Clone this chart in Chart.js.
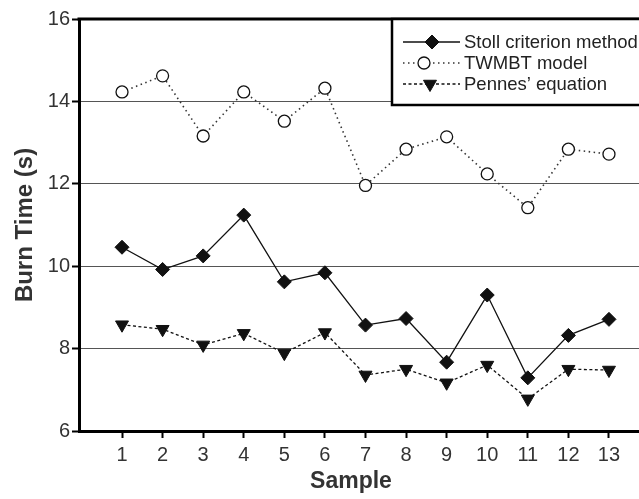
<!DOCTYPE html>
<html>
<head>
<meta charset="utf-8">
<script src="https://cdn.jsdelivr.net/npm/chart.js@4/dist/chart.umd.min.js"></script>
<style>
  html, body { margin: 0; padding: 0; background: #ffffff; }
  canvas { display: block; }
</style>
</head>
<body>
<canvas id="c" width="639" height="499"></canvas>
<script>
// ---- data ----
const samples = [1, 2, 3, 4, 5, 6, 7, 8, 9, 10, 11, 12, 13];
const stollValues  = [10.46, 9.92, 10.25, 11.24, 9.62, 9.84, 8.57, 8.73, 7.67, 9.30, 7.29, 8.32, 8.71];
const twmbtValues  = [14.23, 14.62, 13.16, 14.23, 13.52, 14.32, 11.96, 12.84, 13.14, 12.24, 11.42, 12.84, 12.72];
const pennesValues = [8.58, 8.47, 8.09, 8.37, 7.89, 8.39, 7.36, 7.50, 7.17, 7.60, 6.78, 7.50, 7.48];
const seriesNames = ["Stoll criterion method", "TWMBT model", "Pennes\u2019 equation"];
const yTickValues = [6, 8, 10, 12, 14, 16];
const xTitle = "Sample";
const yTitle = "Burn Time (s)";

const FONT = "'Liberation Sans', Arial, Helvetica, sans-serif";

function pts(vals) { return samples.map((s, i) => ({ x: s, y: vals[i] })); }

const datasets = [
  {
    label: seriesNames[0], data: pts(stollValues),
    borderColor: '#111', borderWidth: 1.3, borderDash: [],
    pointStyle: 'rectRot', pointRadius: 7, pointBackgroundColor: '#111',
    pointBorderColor: '#111', pointBorderWidth: 1, pointRotation: 0
  },
  {
    label: seriesNames[1], data: pts(twmbtValues),
    borderColor: '#333', borderWidth: 1.6, borderDash: [1.5, 3.5],
    pointStyle: 'circle', pointRadius: 6, pointBackgroundColor: '#fff',
    pointBorderColor: '#111', pointBorderWidth: 1.3, pointRotation: 0
  },
  {
    label: seriesNames[2], data: pts(pennesValues),
    borderColor: '#111', borderWidth: 1.3, borderDash: [3, 2.5],
    pointStyle: 'triangle', pointRadius: 7.5, pointBackgroundColor: '#111',
    pointBorderColor: '#111', pointBorderWidth: 1, pointRotation: 180
  }
];
datasets.forEach(d => { d.fill = false; d.tension = 0; d.pointHoverRadius = d.pointRadius; });

const framePlugin = {
  id: 'frame',
  afterDraw(chart) {
    const ctx = chart.ctx, a = chart.chartArea;
    ctx.save();
    // top frame line
    ctx.strokeStyle = '#000';
    ctx.lineWidth = 3;
    ctx.beginPath();
    ctx.moveTo(a.left - 1.5, a.top);
    ctx.lineTo(chart.width + 5, a.top);
    ctx.stroke();

    // legend box
    const bx = 392, by = a.top, bw = 260, bh = 86;
    ctx.fillStyle = '#fff';
    ctx.fillRect(bx, by, bw, bh);
    ctx.lineWidth = 2.5;
    ctx.strokeStyle = '#000';
    ctx.strokeRect(bx, by, bw, bh);

    const rows = [42, 63, 84];
    const markX = [432, 424, 430];
    chart.data.datasets.forEach((d, i) => {
      const y = rows[i];
      ctx.save();
      ctx.strokeStyle = d.borderColor;
      ctx.lineWidth = d.borderWidth;
      ctx.setLineDash(d.borderDash);
      ctx.beginPath();
      ctx.moveTo(403, y);
      ctx.lineTo(460, y);
      ctx.stroke();
      ctx.restore();
      ctx.save();
      ctx.fillStyle = d.pointBackgroundColor;
      ctx.strokeStyle = d.pointBorderColor;
      ctx.lineWidth = d.pointBorderWidth;
      Chart.helpers.drawPoint(ctx, {
        pointStyle: d.pointStyle, rotation: d.pointRotation,
        radius: d.pointRadius, borderWidth: d.pointBorderWidth
      }, markX[i], y);
      ctx.restore();
      ctx.fillStyle = '#222';
      ctx.font = "18.5px " + FONT;
      ctx.textAlign = 'left';
      ctx.textBaseline = 'middle';
      ctx.fillText(d.label, 464, y + 1);
    });

    // x axis title
    ctx.fillStyle = '#333';
    ctx.font = "bold 23px " + FONT;
    ctx.textAlign = 'center';
    ctx.textBaseline = 'middle';
    ctx.fillText(xTitle, 351, 482);
    ctx.restore();
  }
};

new Chart(document.getElementById('c'), {
  type: 'line',
  data: { datasets },
  options: {
    responsive: false,
    animation: false,
    devicePixelRatio: 1,
    layout: { autoPadding: false, padding: { top: 19, right: 0, bottom: 0, left: 0 } },
    plugins: { legend: { display: false }, tooltip: { enabled: false } },
    scales: {
      x: {
        type: 'linear',
        min: -0.06, max: 13.74,
        afterBuildTicks(scale) { scale.ticks = samples.map(v => ({ value: v })); },
        afterFit(scale) { scale.height = 68; },
        ticks: {
          color: '#333', font: { size: 20, family: FONT }, padding: 5,
          maxRotation: 0, autoSkip: false,
          callback: v => String(v)
        },
        grid: { drawOnChartArea: false, drawTicks: true, tickLength: 7, tickColor: '#000', tickWidth: 2 },
        border: { color: '#000', width: 3 }
      },
      y: {
        min: 6, max: 16,
        afterBuildTicks(scale) { scale.ticks = yTickValues.map(v => ({ value: v })); },
        afterFit(scale) { scale.width = 79; },
        ticks: { color: '#333', font: { size: 20, family: FONT }, padding: 2 },
        grid: { color: '#555', lineWidth: 1, tickLength: 7, tickColor: '#000', tickWidth: 2 },
        border: { color: '#000', width: 3 },
        title: {
          display: true, text: yTitle, color: '#333',
          font: { size: 24, weight: 'bold', family: FONT },
          padding: { top: 11, bottom: 0 }
        }
      }
    }
  },
  plugins: [framePlugin]
});
</script>
</body>
</html>
